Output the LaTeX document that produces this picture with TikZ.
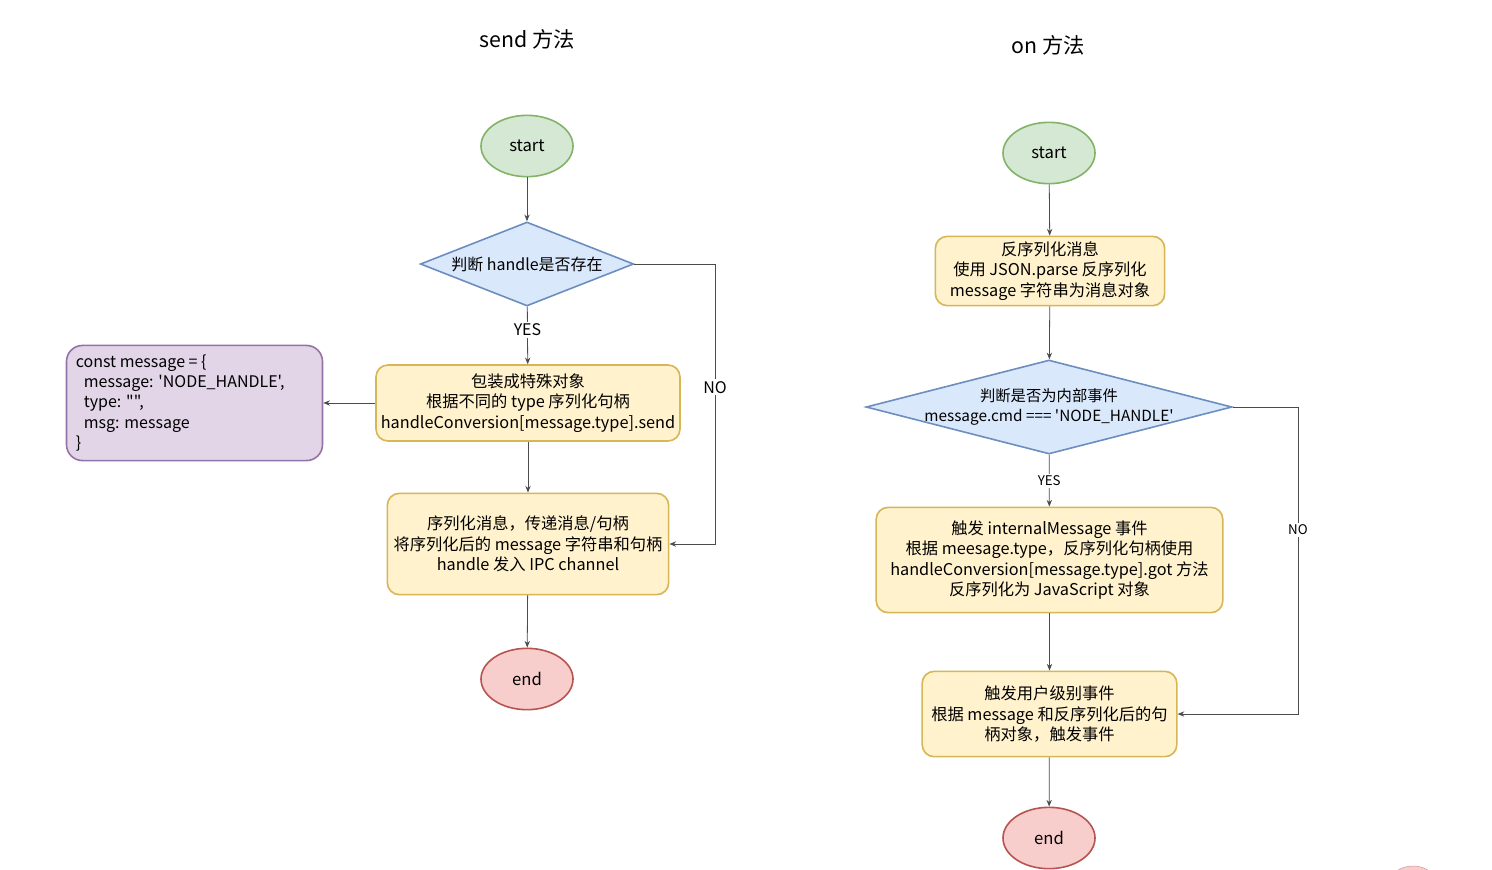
\documentclass[tikz,border=0pt]{standalone}
\usepackage{fontspec}
\setmainfont{Noto Sans CJK SC}[Ligatures=TeXOff]
\usetikzlibrary{shapes.geometric,arrows.meta,positioning}
\definecolor{gfill}{HTML}{D5E8D4}\definecolor{gdraw}{HTML}{82B366}
\definecolor{bfill}{HTML}{DAE8FC}\definecolor{bdraw}{HTML}{6C8EBF}
\definecolor{yfill}{HTML}{FFF2CC}\definecolor{ydraw}{HTML}{D6B656}
\definecolor{pfill}{HTML}{E1D5E7}\definecolor{pdraw}{HTML}{9673A6}
\definecolor{rfill}{HTML}{F8CECC}\definecolor{rdraw}{HTML}{B85450}
\tikzset{
  px/.style={x=0.75pt,y=-0.75pt},
  term/.style={ellipse,draw=#1draw,fill=#1fill,line width=1.2pt,minimum width=69pt,minimum height=46pt,inner sep=0pt,font=\fontsize{12.5}{14}\selectfont},
  dec/.style={diamond,draw=bdraw,fill=bfill,line width=1.2pt,inner sep=0pt},
  dectext/.style={align=center,inner sep=0pt,font=\fontsize{12}{15.5}\selectfont},
  proc/.style={rectangle,rounded corners=9pt,draw=ydraw,fill=yfill,line width=1.2pt,inner sep=0pt,align=center,font=\fontsize{12.2}{15.2}\selectfont},
  conn/.style={draw=black!70,line width=0.6pt,-{Stealth[length=5pt,width=4pt]}},
  lbl/.style={fill=white,inner sep=1.5pt,font=\fontsize{12}{14}\selectfont},
  ttl/.style={font=\fontsize{16}{19}\selectfont}
}
\begin{document}
\begin{tikzpicture}[px]
\useasboundingbox[fill=white] (0,0) rectangle (1492,869);
% titles
\node[ttl] (t1) at (527,39) {send 方法};
\node[ttl] (t2) at (1048,45) {on 方法};
% left flow
\node[term=g] (s1) at (527,146) {start};
\node[dec,minimum width=160pt,minimum height=63pt] (d1) at (527,264) {};
\node[dectext] (d1t) at (d1.center) {判断 handle是否存在};
\node[proc,minimum width=228pt,minimum height=57pt] (b1) at (528,403) {包装成特殊对象\\根据不同的 type 序列化句柄\\handleConversion[message.type].send};
\node[rectangle,rounded corners=12pt,draw=pdraw,fill=pfill,line width=1.2pt,minimum width=191pt,minimum height=85pt,inner sep=7pt,align=left,font=\fontsize{12}{15.2}\selectfont,anchor=center] (obj) at (194.5,403) {\parbox{178pt}{const message = \{\\\hspace*{6pt}message: 'NODE\_HANDLE',\\\hspace*{6pt}type: "",\\\hspace*{6pt}msg: message\\\}}};
\node[proc,minimum width=211pt,minimum height=76pt] (b2) at (528,544) {序列化消息，传递消息/句柄\\将序列化后的 message 字符串和句柄\\handle 发入 IPC channel};
\node[term=r] (e1) at (527,679) {end};
\draw[conn] (s1) -- (d1);
\draw[conn] (d1) -- node[lbl,pos=0.4] (yes1) {YES} (b1);
\draw[conn] (b1) -- (obj);
\draw[conn] (b1) -- (b2);
\draw[conn] (b2) -- (e1);
\coordinate (n1a) at (715,264);
\coordinate (n1b) at (715,544);
\draw[conn] (d1.east) -- (n1a) -- node[lbl,pos=0.44] (no1) {NO} (n1b) -- (b2.east);
% right flow
\node[term=g] (s2) at (1049,153) {start};
\node[proc,minimum width=172pt,minimum height=52pt] (r1) at (1050,271) {反序列化消息\\使用 JSON.parse 反序列化\\message 字符串为消息对象};
\node[dec,minimum width=274.5pt,minimum height=70.5pt] (d2) at (1049,407) {};
\node[dectext,font=\fontsize{11.5}{15.5}\selectfont] (d2t) at (d2.center) {判断是否为内部事件\\message.cmd === 'NODE\_HANDLE'};
\node[proc,minimum width=260pt,minimum height=79pt] (r2) at (1049.5,560) {触发 internalMessage 事件\\根据 meesage.type，反序列化句柄使用\\handleConversion[message.type].got 方法\\反序列化为 JavaScript 对象};
\node[proc,minimum width=191pt,minimum height=64pt] (r3) at (1049.5,714) {触发用户级别事件\\根据 message 和反序列化后的句\\柄对象，触发事件};
\node[term=r] (e2) at (1049,838) {end};
\draw[conn] (s2) -- (r1);
\draw[conn] (r1) -- (d2);
\draw[conn] (d2) -- node[lbl,font=\fontsize{10}{12}\selectfont] (yes2) {YES} (r2);
\draw[conn] (r2) -- (r3);
\draw[conn] (r3) -- (e2);
\coordinate (n2a) at (1298,407);
\coordinate (n2b) at (1298,714);
\draw[conn] (d2.east) -- (n2a) -- node[lbl,pos=0.4,font=\fontsize{10}{12}\selectfont] (no2) {NO} (n2b) -- (r3.east);
% cut-off fragment at bottom right
\begin{scope}
\clip (0,0) rectangle (1492,869);
\draw[draw=rdraw!60,fill=rfill] (1413,897) ellipse [x radius=30, y radius=31];
\end{scope}
\end{tikzpicture}
\end{document}
